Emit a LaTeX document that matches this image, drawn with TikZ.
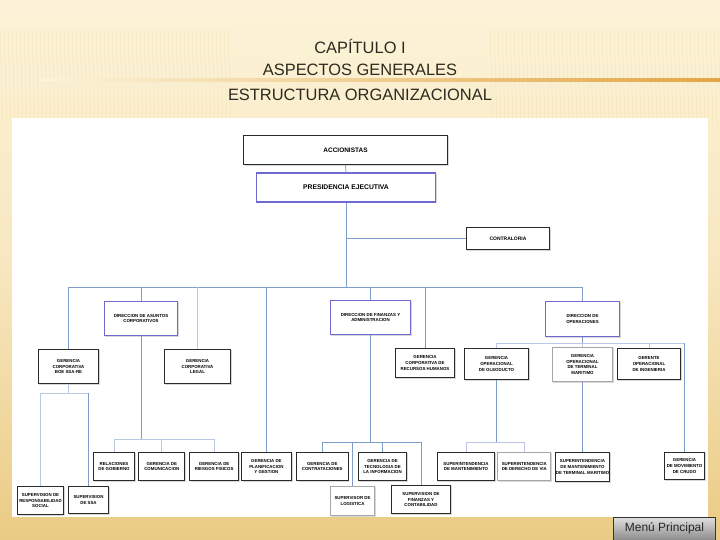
\documentclass[tikz,border=0pt]{standalone}
\usepackage{fontspec}
\setmainfont{Liberation Sans}
\usepackage{xcolor}
\usepackage{tikz}
\usetikzlibrary{positioning,shadows}
\definecolor{cream}{HTML}{FCF3D8}
\definecolor{goldbg}{HTML}{EACB84}
\definecolor{rulecol}{HTML}{E2A646}
\definecolor{titletext}{HTML}{2E2A20}
\definecolor{linkblue}{HTML}{7F9DC8}
\definecolor{dirblue}{HTML}{6E6AD2}
\definecolor{boxline}{HTML}{2A2A2A}

\begin{document}
\begin{tikzpicture}[x=1bp, y=-1bp,
  box/.style={draw=boxline, fill=white, line width=1pt, align=center, inner sep=0.5pt,
    font=\fontsize{4.4}{5.6}\selectfont\bfseries,
    drop shadow={shadow xshift=1.2pt, shadow yshift=-1.2pt, opacity=0.3}},
  dirbox/.style={box, draw=dirblue},
  ltbox/.style={box, draw=black!35},
  link/.style={draw=linkblue, line width=0.8pt},
  linklt/.style={draw=linkblue!55, line width=0.8pt},
  title/.style={font=\fontsize{16.5}{19}\selectfont, text=titletext}
]
  \useasboundingbox (0,0) rectangle (720,540);
  \fill[top color=cream, bottom color=goldbg, middle color=cream!70!goldbg] (0,0) rectangle (720,540);
  \foreach \i in {0,4,...,230} \draw[goldbg, opacity=0.3, line width=0.4pt] (\i,28) -- (\i+3,125);
  \foreach \i in {490,494,...,720} \draw[goldbg, opacity=0.3, line width=0.4pt] (\i,28) -- (\i+3,125);
  \shade[left color=cream, middle color=rulecol!80, right color=rulecol] (40,78.8) rectangle (720,81.2);

  \node[title] (cap) at (360,46) {CAPÍTULO I};
  \node[title] (asp) at (360,70) {ASPECTOS GENERALES};
  \node[title] (est) at (360,95) {ESTRUCTURA ORGANIZACIONAL};

  \fill[white] (12,118) rectangle (708,517);

  % top levels
  \node[box, minimum width=205, minimum height=30, font=\fontsize{6.5}{7.5}\selectfont\bfseries] (accion) at (345.5,150) {ACCIONISTAS};
  \node[dirbox, line width=1.4pt, minimum width=180, minimum height=29, font=\fontsize{6.8}{8}\selectfont\bfseries] (pres) at (346,187.5) {PRESIDENCIA EJECUTIVA};
  \node[box, minimum width=84, minimum height=23, font=\fontsize{5}{6}\selectfont\bfseries] (contral) at (508,238.5) {CONTRALORIA};

  % directions and corporate offices
  \node[dirbox, minimum width=74, minimum height=35] (dac) at (141,318.5) {DIRECCION DE ASUNTOS\\CORPORATIVOS};
  \node[dirbox, minimum width=81, minimum height=35] (dfa) at (370.5,317.5) {DIRECCION DE FINANZAS Y\\ADMINISTRACION};
  \node[dirbox, minimum width=75, minimum height=36] (dop) at (582.5,319) {DIRECCION DE\\OPERACIONES};
  \node[box, minimum width=61, minimum height=35] (boe) at (68.5,366.5) {GERENCIA\\CORPORATIVA\\BOE SSA-RE};
  \node[box, minimum width=67, minimum height=35] (legal) at (197.5,366.5) {GERENCIA\\CORPORATIVA\\LEGAL};
  \node[box, minimum width=60, minimum height=30] (rrhh) at (425,363) {GERENCIA\\CORPORATIVA DE\\RECURSOS HUMANOS};
  \node[box, minimum width=65, minimum height=32] (oleo) at (496.5,364) {GERENCIA\\OPERACIONAL\\DE OLEODUCTO};
  \node[ltbox, minimum width=61, minimum height=35] (term) at (582.5,364.5) {GERENCIA\\OPERACIONAL\\DE TERMINAL\\MARITIMO};
  \node[box, minimum width=64, minimum height=32] (ing) at (649,364) {GERENTE\\OPERACIONAL\\DE INGENIERIA};

  % bottom row
  \node[box, minimum width=42, minimum height=29] (rel) at (114,466.5) {RELACIONES\\DE GOBIERNO};
  \node[box, minimum width=46, minimum height=29, right=3pt of rel] (com) {GERENCIA DE\\COMUNICACION};
  \node[box, minimum width=49, minimum height=29, right=4pt of com] (rie) {GERENCIA DE\\RIESGOS FISICOS};
  \node[box, minimum width=50, minimum height=29, right=2pt of rie] (plan) {GERENCIA DE\\PLANIFICACION\\Y GESTION};
  \node[box, minimum width=52, minimum height=29, right=4pt of plan] (contr) {GERENCIA DE\\CONTRATACIONES};
  \node[box, minimum width=49, minimum height=29] (tec) at (382.5,466.5) {GERENCIA DE\\TECNOLOGIA DE\\LA INFORMACION};
  \node[box, minimum width=58, minimum height=29] (smant) at (466,466.5) {SUPERINTENDENCIA\\DE MANTENIMIENTO};
  \node[ltbox, minimum width=53, minimum height=29, right=2pt of smant] (sdv) {SUPERINTENDENCIA\\DE DERECHO DE VIA};
  \node[box, minimum width=55, minimum height=30] (smtm) at (582.5,467) {SUPERINTENDENCIA\\DE MANTENIMIENTO\\DE TERMINAL MARITIMO};
  \node[box, minimum width=41, minimum height=28] (crudo) at (684.5,466) {GERENCIA\\DE MOVIMIENTO\\DE CRUDO};
  \node[box, minimum width=47, minimum height=29] (srs) at (40.5,500.5) {SUPERVISION DE\\RESPONSABILIDAD\\SOCIAL};
  \node[box, minimum width=41, minimum height=28] (sssa) at (88.5,500) {SUPERVISION\\DE SSA};
  \node[ltbox, minimum width=45, minimum height=30] (slog) at (352.5,501) {SUPERVISOR DE\\LOGISTICA};
  \node[box, minimum width=60, minimum height=29] (sfc) at (421,499.5) {SUPERVISION DE\\FINANZAS Y\\CONTABILIDAD};

  \node[draw=black!80, line width=0.8pt, top color=black!12, bottom color=black!45,
    minimum width=103, minimum height=23, inner sep=0, text=black!85,
    font=\fontsize{12}{14}\selectfont] (menu) at (664.5,528.5) {Menú Principal};

  % connectors
  \coordinate (busA) at (0,287);
  \coordinate (busB) at (0,393);
  \coordinate (busC) at (0,439);
  \coordinate (busD) at (0,442);
  \coordinate (busE) at (0,343);
  \draw[link] (accion.south) -- (pres.north);
  \draw[link] (pres.south) -- (pres.south |- busA);
  \draw[link] (pres.south |- contral) -- (contral.west);
  \draw[link] (boe.north |- busA) -- (dop.north |- busA);
  \foreach \n in {boe,dac,dfa,dop,plan,rrhh}
    \draw[link] (\n.north) -- (\n.north |- busA);
  \draw[linklt] (legal.north) -- (legal.north |- busA);

  \draw[linklt] (boe.south) -- (boe.south |- busB);
  \draw[linklt] (srs.north |- busB) -- (sssa.north |- busB);
  \draw[linklt] (srs.north) -- (srs.north |- busB);
  \draw[link] (sssa.north) -- (sssa.north |- busB);

  \draw[link] (dac.south) -- (dac.south |- busC);
  \draw[linklt] (rel.north |- busC) -- (rie.north |- busC);
  \foreach \n in {rel,com,rie}
    \draw[linklt] (\n.north) -- (\n.north |- busC);

  \draw[link] (dfa.south) -- (dfa.south |- busD);
  \draw[link] (contr.north |- busD) -- (sfc.north |- busD);
  \foreach \n in {contr,slog,tec,sfc}
    \draw[link] (\n.north) -- (\n.north |- busD);

  \draw[link] (dop.south) -- (dop.south |- busE);
  \draw[linklt] (oleo.north |- busE) -- (crudo.north |- busE);
  \foreach \n in {oleo,term,ing}
    \draw[linklt] (\n.north) -- (\n.north |- busE);
  \draw[link] (crudo.north) -- (crudo.north |- busE);

  \draw[link] (oleo.south) -- (oleo.south |- busD);
  \draw[linklt] (smant.north |- busD) -- (sdv.north |- busD);
  \foreach \n in {smant,sdv}
    \draw[linklt] (\n.north) -- (\n.north |- busD);
  \draw[link] (term.south) -- (smtm.north);
\end{tikzpicture}
\end{document}
